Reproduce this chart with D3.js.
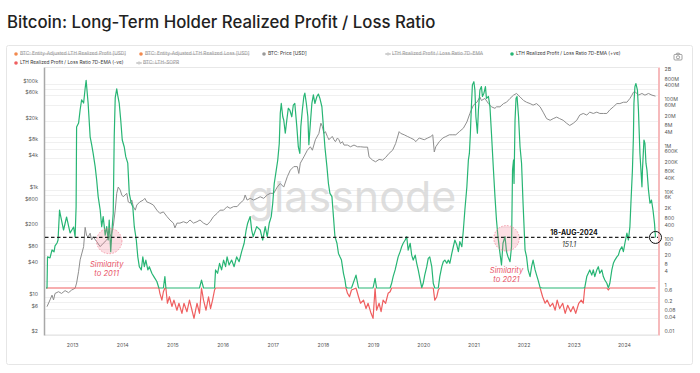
<!DOCTYPE html>
<html>
<head>
<meta charset="utf-8">
<script src="https://cdn.jsdelivr.net/npm/d3@7"></script>
<style>
  body { margin: 0; background: #fff; }
  svg { display: block; font-family: Inter, Roboto, "Noto Sans", sans-serif; }
</style>
</head>
<body>
<svg id="chart" width="700" height="373"></svg>
<script>
// ---- data ----
const yearTicks = [2013, 2014, 2015, 2016, 2017, 2018, 2019, 2020, 2021, 2022, 2023, 2024];
const priceTicks = [2, 6, 10, 40, 80, 200, 600, 1e3, 4e3, 8e3, 2e4, 6e4, 1e5];
const ratioTicks = [0.01, 0.04, 0.08, 0.2, 0.6, 1, 4, 8, 20, 60, 100, 400, 800, 2e3, 6e3, 1e4, 4e4, 8e4,
  2e5, 6e5, 1e6, 4e6, 8e6, 2e7, 6e7, 1e8, 4e8, 8e8, 2e9];

const legendNames = [
  'BTC: Entity-Adjusted LTH Realized Profit [USD]',
  'BTC: Entity-Adjusted LTH Realized Loss [USD]',
  'BTC: Price [USD]',
  'LTH Realized Profit / Loss Ratio 7D-EMA',
  'LTH Realized Profit / Loss Ratio 7D-EMA (+ve)',
  'LTH Realized Profit / Loss Ratio 7D-EMA (-ve)',
  'BTC: LTH-SOPR',
];
const legendHidden = [true, true, false, true, false, false, true];

// BTC price [year, USD]
const btcPrice = [
  [2012.50, 6.5], [2012.56, 8.7], [2012.60, 10.7], [2012.63, 8.7], [2012.66, 11.5], [2012.73, 12.4],
  [2012.79, 11.5], [2012.86, 13], [2012.93, 11.9], [2012.99, 13.3], [2013.06, 14.4], [2013.09, 18],
  [2013.13, 30], [2013.16, 49], [2013.23, 87], [2013.26, 200], [2013.29, 140], [2013.32, 133],
  [2013.36, 155], [2013.39, 116], [2013.42, 133], [2013.49, 108], [2013.56, 87], [2013.62, 100],
  [2013.69, 116], [2013.75, 133], [2013.79, 155], [2013.82, 206], [2013.86, 420], [2013.89, 870],
  [2013.92, 1140], [2013.96, 1000], [2013.99, 810], [2014.02, 750], [2014.09, 870], [2014.12, 600],
  [2014.16, 570], [2014.19, 650], [2014.22, 490], [2014.26, 420], [2014.29, 525], [2014.35, 600],
  [2014.42, 650], [2014.45, 700], [2014.49, 600], [2014.55, 570], [2014.62, 525], [2014.69, 420],
  [2014.75, 365], [2014.82, 390], [2014.89, 320], [2014.95, 275], [2015.02, 240], [2015.05, 195],
  [2015.09, 240], [2015.15, 240], [2015.22, 255], [2015.29, 240], [2015.35, 275], [2015.42, 240],
  [2015.49, 255], [2015.55, 275], [2015.62, 240], [2015.69, 222], [2015.75, 255], [2015.82, 320],
  [2015.89, 365], [2015.95, 420], [2016.02, 420], [2016.09, 490], [2016.15, 455], [2016.22, 490],
  [2016.29, 490], [2016.35, 570], [2016.42, 650], [2016.45, 810], [2016.49, 650], [2016.55, 700],
  [2016.62, 650], [2016.69, 700], [2016.75, 750], [2016.82, 700], [2016.89, 810], [2016.95, 870],
  [2017.02, 870], [2017.09, 1140], [2017.15, 1330], [2017.22, 1140], [2017.29, 1780], [2017.35, 2370],
  [2017.42, 2760], [2017.49, 2760], [2017.52, 2050], [2017.55, 3200], [2017.62, 4200], [2017.69, 5600],
  [2017.75, 6500], [2017.79, 5600], [2017.85, 8800], [2017.92, 11600], [2017.96, 18000], [2017.99, 15500],
  [2018.02, 11600], [2018.05, 12500], [2018.09, 10100], [2018.12, 8800], [2018.15, 9500], [2018.19, 10100],
  [2018.22, 8800], [2018.25, 8100], [2018.29, 9500], [2018.32, 8800], [2018.35, 7500], [2018.39, 8100],
  [2018.42, 7000], [2018.49, 7000], [2018.55, 6500], [2018.62, 7000], [2018.69, 6500], [2018.75, 6500],
  [2018.82, 6400], [2018.89, 6400], [2018.92, 4200], [2018.99, 3650], [2019.05, 3400], [2019.12, 3760],
  [2019.19, 3650], [2019.25, 4100], [2019.32, 4900], [2019.39, 5600], [2019.45, 7500], [2019.52, 12500],
  [2019.55, 11600], [2019.62, 10900], [2019.69, 10100], [2019.75, 9500], [2019.82, 8800], [2019.85, 8100],
  [2019.92, 9500], [2020.02, 8800], [2020.09, 9500], [2020.15, 10100], [2020.19, 10900], [2020.22, 5200],
  [2020.25, 6500], [2020.32, 8100], [2020.39, 9500], [2020.45, 10100], [2020.52, 10900], [2020.59, 10900],
  [2020.65, 10900], [2020.72, 12500], [2020.80, 14500], [2020.87, 19000], [2020.93, 27400], [2021.00, 39300],
  [2021.07, 44500], [2021.13, 56000], [2021.16, 48000], [2021.23, 52400], [2021.30, 42000], [2021.36, 36500],
  [2021.43, 34200], [2021.46, 36500], [2021.53, 36500], [2021.60, 42000], [2021.66, 44500], [2021.73, 52400],
  [2021.80, 60400], [2021.86, 65000], [2021.93, 56000], [2022.00, 48000], [2022.06, 44500], [2022.13, 42000],
  [2022.19, 39300], [2022.26, 42000], [2022.33, 36500], [2022.39, 29000], [2022.46, 21900], [2022.53, 20400],
  [2022.59, 21900], [2022.66, 23400], [2022.72, 21900], [2022.79, 20400], [2022.86, 17900], [2022.92, 16300],
  [2022.99, 17900], [2023.06, 20400], [2023.12, 25600], [2023.19, 27400], [2023.26, 25600], [2023.32, 29000],
  [2023.39, 27400], [2023.46, 29000], [2023.52, 27400], [2023.59, 27400], [2023.66, 27400], [2023.72, 32000],
  [2023.79, 36500], [2023.86, 42000], [2023.92, 42000], [2023.99, 44500], [2024.06, 44500], [2024.12, 52400],
  [2024.16, 60400], [2024.19, 68400], [2024.22, 70700], [2024.29, 60400], [2024.36, 65000], [2024.42, 60400],
  [2024.49, 65000], [2024.56, 60400], [2024.63, 58000],
];

// LTH realized profit / loss ratio, 7D-EMA [year, ratio]
const lthRatio = [
  [2012.48, 1], [2012.50, 1], [2012.51, 22], [2012.56, 20], [2012.60, 44], [2012.64, 36], [2012.66, 65],
  [2012.70, 87], [2012.72, 117], [2012.75, 2300], [2012.76, 1700], [2012.83, 316], [2012.89, 1150],
  [2012.96, 235], [2013.03, 425], [2013.06, 158], [2013.08, 3100], [2013.09, 8.7e6], [2013.13, 1.3e7],
  [2013.16, 4.7e7], [2013.19, 1.3e8], [2013.23, 9.4e7], [2013.26, 4e8], [2013.28, 9e8], [2013.32, 9e7],
  [2013.36, 3.3e6], [2013.39, 1.5e6], [2013.42, 6.3e5], [2013.46, 1.7e5], [2013.49, 4.5e4], [2013.52, 8700],
  [2013.56, 2300], [2013.59, 440], [2013.62, 1200], [2013.66, 190], [2013.69, 440], [2013.72, 117],
  [2013.74, 850], [2013.77, 37], [2013.80, 440], [2013.82, 1660], [2013.84, 3.3e6], [2013.86, 1.6e8],
  [2013.89, 3.8e8], [2013.91, 2e8], [2013.94, 9e7], [2013.97, 1.7e7], [2014.00, 2.4e6], [2014.04, 1.2e6],
  [2014.07, 4.6e5], [2014.11, 2.4e5], [2014.14, 1.2e4], [2014.18, 4500], [2014.21, 3200], [2014.24, 440],
  [2014.28, 117], [2014.31, 22], [2014.34, 8.3], [2014.38, 6], [2014.41, 22], [2014.44, 8.3], [2014.47, 16],
  [2014.51, 6], [2014.54, 8.3], [2014.59, 4.3], [2014.63, 3.1], [2014.69, 1.9], [2014.73, 1],
  [2014.75, 0.59], [2014.79, 0.30], [2014.82, 0.69], [2014.85, 3.1], [2014.87, 1], [2014.90, 0.22],
  [2014.94, 0.42], [2014.99, 0.16], [2015.03, 0.30], [2015.09, 0.11], [2015.13, 0.22], [2015.19, 0.081],
  [2015.23, 0.22], [2015.29, 0.095], [2015.34, 0.30], [2015.39, 0.11], [2015.43, 0.049], [2015.49, 0.22],
  [2015.54, 0.081], [2015.58, 2.2], [2015.62, 0.30], [2015.67, 0.11], [2015.72, 0.42], [2015.76, 0.13],
  [2015.80, 0.30], [2015.84, 0.82], [2015.86, 6], [2015.90, 4.3], [2015.94, 11.6], [2015.98, 6],
  [2016.02, 16], [2016.06, 8.3], [2016.09, 22], [2016.13, 9.8], [2016.18, 16], [2016.23, 8.3],
  [2016.28, 22], [2016.33, 13.6], [2016.38, 37], [2016.43, 85], [2016.47, 316], [2016.50, 620],
  [2016.55, 1200], [2016.58, 316], [2016.61, 163], [2016.68, 440], [2016.75, 316], [2016.80, 117],
  [2016.85, 440], [2016.89, 163], [2016.93, 620], [2016.97, 1200], [2017.00, 4500], [2017.03, 3.2e4],
  [2017.07, 1.2e5], [2017.10, 3.3e5], [2017.13, 1.7e6], [2017.15, 3.4e7], [2017.17, 9e7], [2017.20, 2.4e7],
  [2017.22, 1.7e7], [2017.25, 4.7e6], [2017.28, 1.7e7], [2017.31, 5.6e7], [2017.34, 4.7e7], [2017.38, 2.4e7],
  [2017.41, 7.7e7], [2017.44, 9e7], [2017.48, 9e6], [2017.51, 1.2e6], [2017.54, 6.3e5], [2017.56, 9e6],
  [2017.59, 4.7e7], [2017.62, 1.8e8], [2017.64, 2.5e8], [2017.67, 9e7], [2017.70, 2.4e7], [2017.72, 1.5e6],
  [2017.75, 1.26e7], [2017.78, 9e7], [2017.81, 2.1e8], [2017.84, 9e7], [2017.88, 1.8e8], [2017.91, 2.3e8],
  [2017.94, 1.5e8], [2017.98, 6.5e7], [2018.01, 9e6], [2018.04, 1.2e6], [2018.08, 1.7e5], [2018.11, 3.2e4],
  [2018.14, 1.2e4], [2018.18, 8700], [2018.21, 1200], [2018.24, 163], [2018.28, 85], [2018.31, 31],
  [2018.34, 22], [2018.37, 16], [2018.41, 4.3], [2018.44, 2.2], [2018.46, 1.1],
  [2018.49, 0.59], [2018.53, 0.42], [2018.57, 0.82], [2018.66, 3.6], [2018.71, 0.42], [2018.75, 0.22],
  [2018.81, 0.30], [2018.86, 0.13], [2018.90, 0.22], [2018.96, 0.081], [2019.00, 0.049], [2019.04, 2.6],
  [2019.07, 0.11], [2019.12, 0.22], [2019.16, 0.095], [2019.20, 0.30], [2019.25, 0.22], [2019.30, 0.59],
  [2019.34, 0.69], [2019.37, 1.6], [2019.40, 3.1], [2019.44, 6], [2019.47, 11.6], [2019.50, 22],
  [2019.54, 37], [2019.57, 60], [2019.60, 85], [2019.64, 117], [2019.67, 163], [2019.70, 43], [2019.74, 85],
  [2019.77, 26], [2019.80, 16], [2019.84, 26], [2019.87, 11.6], [2019.90, 6], [2019.94, 2.2], [2019.97, 1.03],
  [2020.00, 1.6], [2020.03, 3.6], [2020.07, 8.3], [2020.10, 19], [2020.13, 22], [2020.17, 8.3], [2020.20, 1.6],
  [2020.23, 0.30], [2020.27, 0.42], [2020.30, 0.82], [2020.33, 3.1], [2020.37, 8.3], [2020.40, 13.6],
  [2020.43, 16], [2020.47, 11.6], [2020.50, 16], [2020.53, 11.6], [2020.57, 31], [2020.60, 60], [2020.63, 117],
  [2020.67, 71], [2020.70, 37], [2020.73, 100], [2020.77, 60], [2020.80, 316], [2020.83, 2300], [2020.87, 2.3e4],
  [2020.90, 3.3e5], [2020.92, 6.3e5], [2020.94, 4.7e6], [2020.96, 6.5e7], [2020.98, 5.6e8], [2021.01, 7.8e8],
  [2021.03, 3.4e8], [2021.05, 2.4e7], [2021.08, 4.7e6], [2021.10, 4.7e7], [2021.13, 3.4e8], [2021.16, 4.8e8],
  [2021.18, 1.8e8], [2021.21, 2.5e8], [2021.24, 4.8e8], [2021.26, 1.5e8], [2021.30, 1.8e8], [2021.33, 6.5e7],
  [2021.36, 4.7e6], [2021.40, 1.2e5], [2021.43, 8700], [2021.46, 850], [2021.49, 163], [2021.53, 31],
  [2021.56, 9.8], [2021.59, 85], [2021.63, 163], [2021.66, 37], [2021.69, 22], [2021.73, 13.6], [2021.76, 60],
  [2021.78, 1.2e5], [2021.80, 3.3e5], [2021.81, 3.2e4], [2021.83, 1.7e7], [2021.85, 1.5e8], [2021.87, 1.8e8],
  [2021.90, 2.4e7], [2021.93, 1.2e6], [2021.96, 2.4e5], [2021.99, 4500], [2022.03, 43], [2022.06, 22],
  [2022.09, 6], [2022.13, 3.1], [2022.16, 8.3], [2022.19, 16], [2022.23, 6], [2022.26, 3.6], [2022.29, 2.2],
  [2022.33, 1.03], [2022.38, 0.42], [2022.43, 0.22], [2022.47, 0.30], [2022.53, 0.16], [2022.58, 0.22],
  [2022.63, 0.11], [2022.67, 0.30], [2022.72, 0.13], [2022.78, 0.22], [2022.83, 0.081], [2022.88, 0.18],
  [2022.94, 0.095], [2022.99, 0.16], [2023.04, 0.081], [2023.10, 0.22], [2023.15, 0.30], [2023.19, 0.22],
  [2023.22, 1.03], [2023.26, 3.1], [2023.29, 4.3], [2023.32, 6], [2023.36, 3.6], [2023.39, 6], [2023.42, 3.1],
  [2023.46, 6], [2023.49, 8.3], [2023.52, 4.3], [2023.56, 6], [2023.59, 3.1], [2023.62, 2.2], [2023.66, 1.6],
  [2023.69, 0.82], [2023.72, 1.6], [2023.76, 6], [2023.79, 11.6], [2023.82, 16], [2023.86, 22], [2023.89, 26],
  [2023.92, 43], [2023.96, 60], [2023.99, 37], [2024.02, 85], [2024.06, 230], [2024.09, 117], [2024.12, 440],
  [2024.14, 4500], [2024.17, 1.2e5], [2024.19, 3.3e6], [2024.20, 9e7], [2024.22, 4.8e8], [2024.24, 6.5e8],
  [2024.27, 3.4e8], [2024.29, 4.7e7], [2024.32, 6.3e5], [2024.36, 2.3e4], [2024.37, 1.2e5], [2024.40, 2.4e6],
  [2024.42, 1.7e6], [2024.44, 2.4e5], [2024.46, 1.2e5], [2024.49, 1.7e4], [2024.52, 4500], [2024.55, 6200],
  [2024.58, 2300], [2024.61, 620], [2024.63, 151.1],
];

const latestLabel = '18-AUG-2024';
const latestYear = 2024.63;
const latestValue = 151.1;

// similarity call-outs [year, ratio, text]
const similarities = [
  [2013.74, 106, 'to 2011'],
  [2021.66, 139, 'to 2021'],
];

// ---- drawing ----
const colors = {
  green: '#27b574', red: '#ef5f60', price: '#8e8e8e', orange: '#f28a4e', pink: '#f3a3a6',
  note: '#e95468', axisText: '#555', grid: '#f0f0f0',
};
const legendColors = [colors.orange, colors.orange, '#9a9a9a', '#aaa', colors.green, colors.red, '#aaa'];
const legendMarker = ['dot', 'dot', 'dot', 'line', 'dot', 'dot', 'line'];
const legendSlots = [[16, 54], [141, 54], [264, 54], [388, 54], [512, 54], [16, 63], [139, 63]];

const plot = { left: 45, right: 658, top: 67, bottom: 335 };
const svg = d3.select('#chart');

svg.append('text')
  .attr('x', 7).attr('y', 28)
  .attr('font-size', 16.8).attr('font-weight', 500).attr('fill', '#222')
  .text('Bitcoin: Long-Term Holder Realized Profit / Loss Ratio');

svg.append('rect')
  .attr('x', 6.5).attr('y', 45.5).attr('width', 686).attr('height', 319)
  .attr('rx', 2).attr('fill', 'none').attr('stroke', '#e6e6e6');

// legend
const leg = svg.append('g').attr('font-size', 4.8);
legendNames.forEach((name, i) => {
  const [lx, ly] = legendSlots[i];
  if (legendMarker[i] === 'dot') {
    leg.append('circle').attr('cx', lx).attr('cy', ly).attr('r', 1.8).attr('fill', legendColors[i]);
  } else {
    leg.append('line').attr('x1', lx - 3).attr('x2', lx + 3).attr('y1', ly).attr('y2', ly)
      .attr('stroke', legendColors[i]).attr('stroke-width', 0.8);
    leg.append('circle').attr('cx', lx).attr('cy', ly).attr('r', 1.1)
      .attr('fill', '#fff').attr('stroke', legendColors[i]).attr('stroke-width', 0.7);
  }
  const t = leg.append('text')
    .attr('x', lx + 4).attr('y', ly).attr('dominant-baseline', 'middle')
    .attr('fill', legendHidden[i] ? '#999' : '#333')
    .text(name);
  if (legendHidden[i]) {
    const len = t.node().getComputedTextLength();
    leg.append('line').attr('x1', lx + 4).attr('x2', lx + 4 + len).attr('y1', ly + 0.2).attr('y2', ly + 0.2)
      .attr('stroke', '#999').attr('stroke-width', 0.5);
  }
});

// camera icon
const cam = svg.append('g').attr('transform', 'translate(678,57)')
  .attr('fill', 'none').attr('stroke', '#888').attr('stroke-width', 0.8);
cam.append('rect').attr('x', -4).attr('y', -2.6).attr('width', 8).attr('height', 5.6).attr('rx', 1);
cam.append('circle').attr('cx', 0).attr('cy', 0.3).attr('r', 1.6);
cam.append('path').attr('d', 'M-1.8,-2.6 L-1.2,-3.8 L1.2,-3.8 L1.8,-2.6');

// scales
const x = d3.scaleLinear().domain([2012.46, 2024.68]).range([plot.left, plot.right]);
const yPrice = d3.scaleLog().domain([1.91, 204000]).range([plot.bottom, plot.top]);
const yRatio = d3.scaleLog().domain([0.00942, 3.36e9]).range([plot.bottom, plot.top]);

// grid
const gridVals = [];
for (let e = 0; e <= 5; e++) [1, 2, 4, 6, 8].forEach(m => gridVals.push(m * Math.pow(10, e)));
svg.append('g').selectAll('line')
  .data(gridVals.filter(v => v >= 1.91 && v <= 204000))
  .join('line')
  .attr('x1', plot.left).attr('x2', plot.right)
  .attr('y1', d => Math.round(yPrice(d)) + 0.5).attr('y2', d => Math.round(yPrice(d)) + 0.5)
  .attr('stroke', colors.grid);
svg.append('line').attr('x1', plot.left).attr('x2', plot.right)
  .attr('y1', plot.top + 0.5).attr('y2', plot.top + 0.5).attr('stroke', '#e8e8e8');
svg.append('line').attr('x1', plot.left).attr('x2', plot.right)
  .attr('y1', plot.bottom + 0.5).attr('y2', plot.bottom + 0.5).attr('stroke', '#e8e8e8');

// watermark
svg.append('text')
  .attr('x', 352).attr('y', 212).attr('text-anchor', 'middle')
  .attr('font-size', 43).attr('fill', '#d6d6d6').attr('fill-opacity', 0.8)
  .text('glassnode');

// axes
const fmtPrice = v => v >= 1000 ? `$${v / 1000}k` : `$${v}`;
const fmtRatio = v => v >= 1e9 ? `${v / 1e9}B` : v >= 1e6 ? `${v / 1e6}M` : v >= 1e3 ? `${v / 1e3}K` : `${v}`;

const leftAxis = d3.axisLeft(yPrice).tickValues(priceTicks).tickFormat(fmtPrice).tickSize(0).tickPadding(6);
const gl = svg.append('g').attr('transform', `translate(${plot.left - 1},0)`).call(leftAxis);
gl.select('.domain').attr('stroke', '#a8a8a8').attr('stroke-width', 1.5);
gl.selectAll('text').attr('font-size', 5.2).attr('fill', colors.axisText).attr('dy', '-0.28em')
  .attr('font-family', 'Inter, Roboto, sans-serif');

const rightAxis = d3.axisRight(yRatio).tickValues(ratioTicks).tickFormat(fmtRatio).tickSize(0).tickPadding(6);
const gr = svg.append('g').attr('transform', `translate(${plot.right + 0.5},0)`).call(rightAxis);
gr.select('.domain').attr('stroke', colors.pink).attr('stroke-width', 1.5);
gr.selectAll('text').attr('font-size', 5.2).attr('fill', colors.axisText).attr('dy', '-0.28em')
  .attr('font-family', 'Inter, Roboto, sans-serif');

const bottomAxis = d3.axisBottom(x).tickValues(yearTicks).tickFormat(d3.format('d')).tickSize(0).tickPadding(8);
const gb = svg.append('g').attr('transform', `translate(0,${plot.bottom})`).call(bottomAxis);
gb.select('.domain').remove();
gb.selectAll('text').attr('font-size', 5.2).attr('fill', colors.axisText)
  .attr('font-family', 'Inter, Roboto, sans-serif');

// series
const priceLine = d3.line().x(d => x(d[0])).y(d => yPrice(d[1]));
const ratioLine = d3.line().x(d => x(d[0])).y(d => yRatio(d[1]));

svg.append('path').datum(btcPrice)
  .attr('fill', 'none').attr('stroke', colors.price).attr('stroke-width', 1)
  .attr('stroke-linejoin', 'round').attr('d', priceLine);

svg.append('path').datum(lthRatio.map(d => [d[0], Math.min(d[1], 1)]))
  .attr('fill', 'none').attr('stroke', colors.red).attr('stroke-width', 1.2)
  .attr('stroke-linejoin', 'round').attr('d', ratioLine);

svg.append('path').datum(lthRatio.map(d => [d[0], Math.max(d[1], 1)]))
  .attr('fill', 'none').attr('stroke', colors.green).attr('stroke-width', 1.2)
  .attr('stroke-linejoin', 'round').attr('d', ratioLine);

// similarity call-outs
similarities.forEach(([yr, v, txt], i) => {
  const cx = x(yr), cy = yRatio(v);
  svg.append('circle').attr('cx', cx).attr('cy', cy).attr('r', 12.7)
    .attr('fill', 'rgba(240,110,130,0.22)').attr('stroke', '#f08a9a')
    .attr('stroke-width', 0.8).attr('stroke-dasharray', '1.5,1.5');
  const ty = cy + (i === 0 ? 24 : 33);
  const g = svg.append('g').attr('font-size', 7.6).attr('font-style', 'italic')
    .attr('fill', colors.note).attr('text-anchor', 'middle');
  g.append('text').attr('x', cx - (i === 0 ? 2.5 : 0)).attr('y', ty).attr('dominant-baseline', 'middle').text('Similarity');
  g.append('text').attr('x', cx - (i === 0 ? 2.5 : 0)).attr('y', ty + 8.7).attr('dominant-baseline', 'middle').text(txt);
});

// latest value marker
const ly = yRatio(latestValue);
svg.append('line').attr('x1', plot.left).attr('x2', plot.right).attr('y1', ly).attr('y2', ly)
  .attr('stroke', '#222').attr('stroke-width', 1.2).attr('stroke-dasharray', '3.5,2.5');
svg.append('circle').attr('cx', x(latestYear)).attr('cy', ly).attr('r', 6)
  .attr('fill', 'none').attr('stroke', '#111').attr('stroke-width', 1);
svg.append('text').attr('x', 574).attr('y', ly - 2.3).attr('text-anchor', 'middle')
  .attr('font-size', 7).attr('font-weight', 700).attr('fill', '#111').text(latestLabel);
svg.append('text').attr('x', 569).attr('y', ly + 9.5).attr('text-anchor', 'middle')
  .attr('font-size', 7).attr('font-style', 'italic').attr('fill', '#333').text(latestValue);
</script>
</body>
</html>
